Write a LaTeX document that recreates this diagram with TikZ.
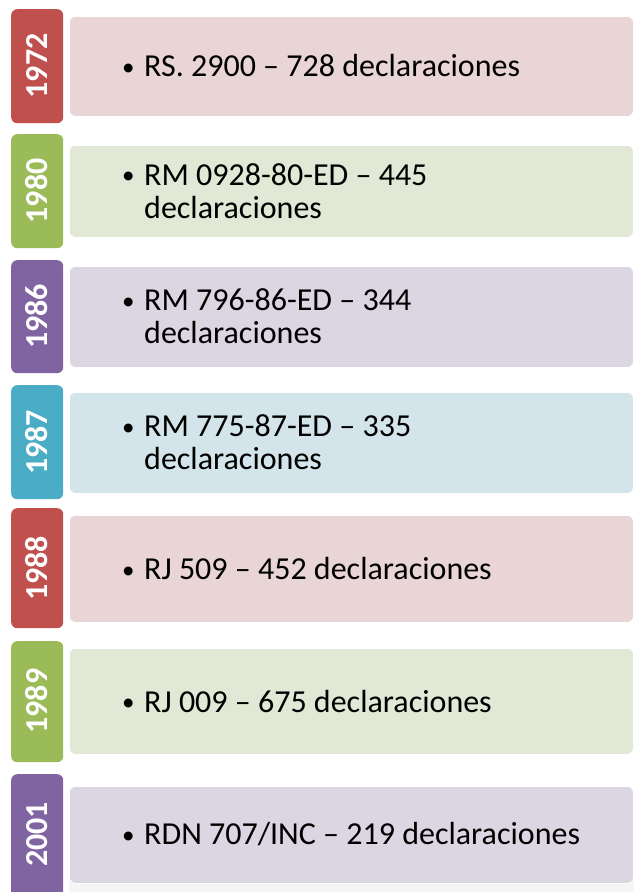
\documentclass[tikz,border=0pt]{standalone}
\usepackage{fontspec}
\setmainfont{Carlito}
\definecolor{cred}{HTML}{C0504D}
\definecolor{lred}{HTML}{E9D5D5}
\definecolor{cgreen}{HTML}{9BBB59}
\definecolor{lgreen}{HTML}{E1E8D5}
\definecolor{cpurple}{HTML}{8064A2}
\definecolor{lpurple}{HTML}{DCD6E3}
\definecolor{caqua}{HTML}{4BACC6}
\definecolor{laqua}{HTML}{D3E4EA}
\tikzset{
  yearbox/.style={rounded corners=6pt, inner sep=0pt, minimum width=52pt, anchor=north west},
  textbox/.style={rounded corners=6pt, inner sep=0pt, minimum width=564pt, anchor=north west, draw=white, line width=0.8pt},
  yeartext/.style={rotate=90, text=white, font=\fontsize{32}{33}\selectfont\bfseries, inner sep=0pt},
  itemtext/.style={align=left, anchor=west, inner sep=0pt, font=\fontsize{32}{33}\selectfont}
}
\newcommand{\bul}{\makebox[25pt][l]{\hspace{3pt}{\fontsize{25}{25}\selectfont\raisebox{1.5pt}{\textbullet}}}}
\newcommand{\ind}{\hspace*{25pt}}
% #1 name, #2 year top, #3 year bottom, #4 text top, #5 text bottom, #6 dark, #7 light, #8 year, #9 text
\newcommand{\tlrow}[9]{%
  \node[textbox, fill=#7, minimum height={#5-#4}] (#1t) at (69,#4) {};
  \node[yearbox, fill=#6, minimum height={#3-#2}] (#1y) at (11,#2) {};
  \node[yeartext] (#1l) at (37,{(#4+#5)/2}) {#8};
  \node[itemtext] (#1x) at (119,{(#4+#5)/2}) {#9};
}
\begin{document}
\begin{tikzpicture}[x=1pt,y=-1pt]
\useasboundingbox (0,0) rectangle (634,892);
\clip (0,0) rectangle (634,892);
\fill[white] (0,0) rectangle (634,892);
\fill[gray!8] (69,880) rectangle (634,892);
\tlrow{a}{9}{123}{16}{116}{cred}{lred}{1972}{\bul RS. 2900 – 728 declaraciones}
\tlrow{b}{134}{248}{145}{237}{cgreen}{lgreen}{1980}{\bul RM 0928-80-ED – 445\\\ind declaraciones}
\tlrow{c}{260}{373}{266}{367}{cpurple}{lpurple}{1986}{\bul RM 796-86-ED – 344\\\ind declaraciones}
\tlrow{d}{385}{499}{392}{493}{caqua}{laqua}{1987}{\bul RM 775-87-ED – 335\\\ind declaraciones}
\tlrow{e}{508}{628}{515}{622}{cred}{lred}{1988}{\bul RJ 509 – 452 declaraciones}
\tlrow{f}{641}{762}{648}{754}{cgreen}{lgreen}{1989}{\bul RJ 009 – 675 declaraciones}
\tlrow{g}{774}{900}{786}{883}{cpurple}{lpurple}{2001}{\bul RDN 707/INC – 219 declaraciones}
\end{tikzpicture}
\end{document}
